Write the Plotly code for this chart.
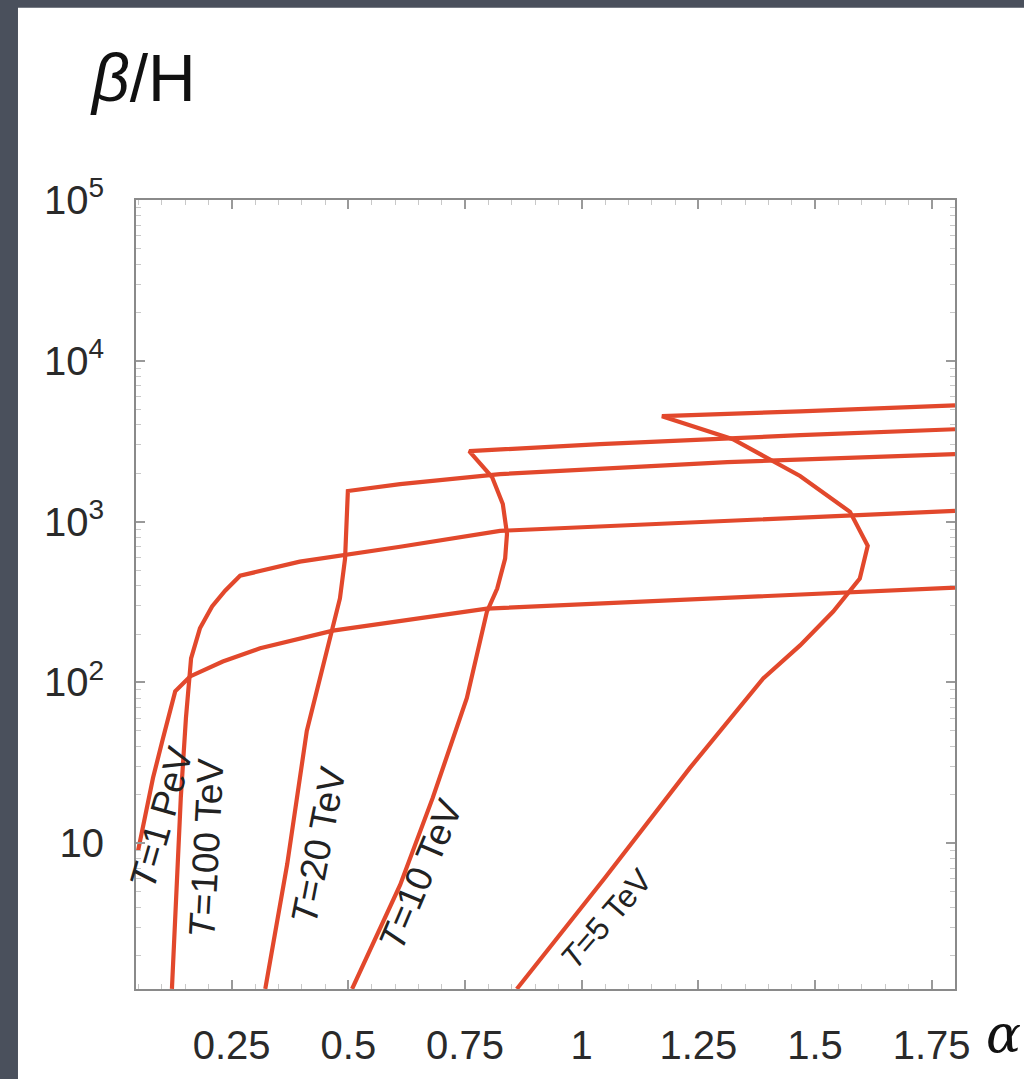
import math
import plotly.graph_objects as go

# ---- data (alpha, beta/H) ----
t1pev_x = [0.0495, 0.060, 0.0815, 0.103, 0.129, 0.161, 0.231, 0.311, 0.467, 0.797, 1.318, 1.80]
t1pev_y = [9.0, 13.0, 25.5, 45.1, 88, 109, 135, 163, 210, 288, 337, 389]

t100_x = [0.122, 0.131, 0.141, 0.152, 0.163, 0.182, 0.208, 0.236, 0.268, 0.396, 0.611, 0.825, 1.312, 1.80]
t100_y = [1.24, 4.6, 19.2, 60, 141, 217, 297, 372, 461, 564, 698, 877, 1012, 1167]

t20_x = [0.322, 0.369, 0.411, 0.454, 0.482, 0.493, 0.497, 0.499, 0.611, 0.825, 1.312, 1.80]
t20_y = [1.24, 7.4, 49.9, 163, 333, 589, 1041, 1552, 1714, 1977, 2344, 2630]

t10_x = [0.508, 0.611, 0.681, 0.754, 0.797, 0.819, 0.836, 0.840, 0.831, 0.808, 0.759, 1.039, 1.468, 1.80]
t10_y = [1.24, 5.5, 19.2, 80, 276, 384, 589, 839, 1289, 1895, 2748, 3034, 3451, 3758]

t5_x = [0.861, 1.050, 1.232, 1.389, 1.468, 1.539, 1.596, 1.613, 1.575, 1.468, 1.324, 1.172, 1.468, 1.80]
t5_y = [1.24, 6.1, 29.4, 106, 170, 276, 443, 708, 1151, 1923, 3258, 4529, 4860, 5297]

curve_names = ["T=1 PeV", "T=100 TeV", "T=20 TeV", "T=10 TeV", "T=5 TeV"]
label_texts = ["<i>T</i>=1 PeV", "<i>T</i>=100 TeV", "<i>T</i>=20 TeV", "<i>T</i>=10 TeV", "<i>T</i>=5 TeV"]
label_x = [0.100, 0.196, 0.436, 0.655, 1.052]
label_y = [14.4, 9.4, 9.7, 6.4, 3.4]
label_angle = [-74, -87, -79, -67, -49]

x_tickvals = [0.25, 0.5, 0.75, 1.0, 1.25, 1.5, 1.75]
x_ticktext = ["0.25", "0.5", "0.75", "1", "1.25", "1.5", "1.75"]
y_tickvals = [10, 100, 1000, 10000, 100000]
y_ticktext = ["10", "10<sup>2</sup>", "10<sup>3</sup>", "10<sup>4</sup>", "10<sup>5</sup>"]

RED = "#e2482c"
FONT = "Liberation Sans, Arial, sans-serif"

fig = go.Figure()
for xs, ys, nm in zip([t1pev_x, t100_x, t20_x, t10_x, t5_x],
                      [t1pev_y, t100_y, t20_y, t10_y, t5_y], curve_names):
    fig.add_trace(go.Scatter(x=xs, y=ys, mode="lines", name=nm,
                             line=dict(color=RED, width=4.2), showlegend=False))

for i, (t, lx, ly, ang) in enumerate(zip(label_texts, label_x, label_y, label_angle)):
    fs = 32 if i == len(label_texts) - 1 else 37
    fig.add_annotation(x=lx, y=math.log10(ly), text=t, showarrow=False, textangle=ang,
                       font=dict(family=FONT, size=fs, color="#222"),
                       xanchor="center", yanchor="middle")

# axis titles
fig.add_annotation(xref="paper", yref="paper", x=0.009, y=1.155, text="<i>β</i>/H",
                   showarrow=False, font=dict(family=FONT, size=66, color="#111"),
                   xanchor="center", yanchor="middle")
fig.add_annotation(xref="paper", yref="paper", x=1.036, y=-0.057, text="<i>α</i>",
                   showarrow=False, font=dict(family="DejaVu Serif, serif", size=52, color="#111"),
                   xanchor="left", yanchor="middle")

# white slide area over gray frame
fig.add_shape(type="rect", xref="paper", yref="paper", x0=-0.1441, x1=1.09, y0=-0.12, y1=1.2437,
              fillcolor="white", line=dict(width=0), layer="below")

axis_common = dict(showline=True, linecolor="#8a8a8a", linewidth=2, mirror="ticks",
                   ticks="inside", tickcolor="#9a9a9a", showgrid=False, zeroline=False)

fig.update_xaxes(range=[0.045, 1.80], tickvals=x_tickvals, ticktext=x_ticktext,
                 ticklen=9, tickwidth=2, ticklabelstandoff=20,
                 tickfont=dict(family=FONT, size=40, color="#2a2a2a"),
                 minor=dict(dtick=0.05, ticks="inside", ticklen=5, tickcolor="#c8c8c8", tickwidth=1),
                 **axis_common)
fig.update_yaxes(type="log", range=[0.093, 5.001], tickvals=y_tickvals, ticktext=y_ticktext,
                 ticklen=9, tickwidth=2, ticklabelstandoff=22,
                 tickfont=dict(family=FONT, size=40, color="#2a2a2a"),
                 minor=dict(dtick="D1", ticks="inside", ticklen=5, tickcolor="#c8c8c8", tickwidth=1),
                 **axis_common)

fig.update_layout(width=1024, height=1079, autosize=False,
                  margin=dict(l=136, r=69, t=200, b=87),
                  paper_bgcolor="#4a505c", plot_bgcolor="white",
                  font=dict(family=FONT))

fig.write_html("out.html")
